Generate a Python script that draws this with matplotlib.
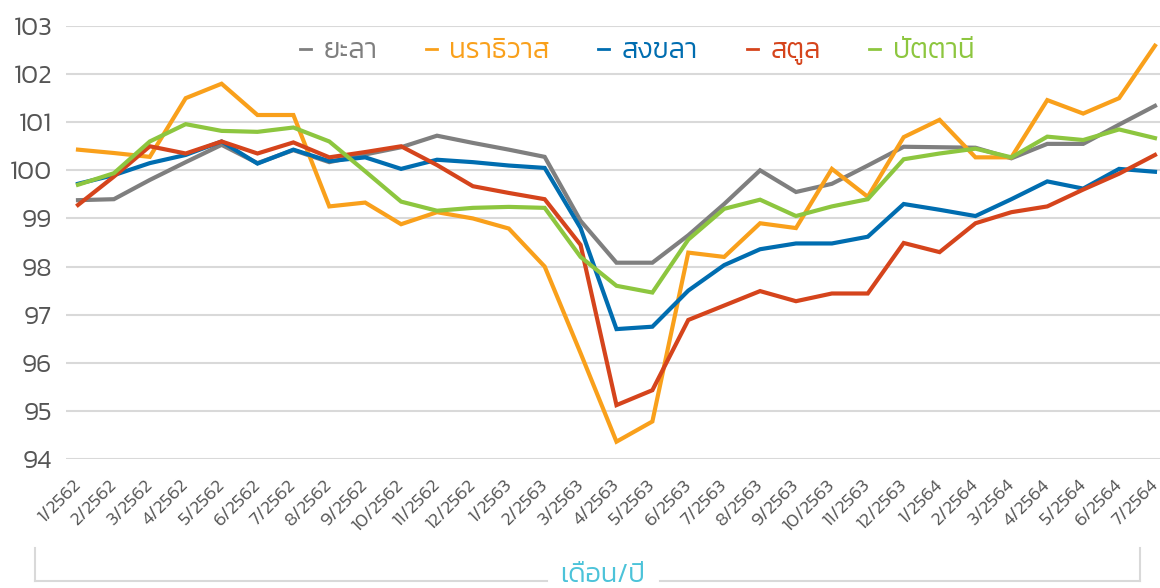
import matplotlib
matplotlib.use("Agg")
import matplotlib.pyplot as plt
from matplotlib.lines import Line2D

months = ['1/2562', '2/2562', '3/2562', '4/2562', '5/2562', '6/2562', '7/2562',
          '8/2562', '9/2562', '10/2562', '11/2562', '12/2562',
          '1/2563', '2/2563', '3/2563', '4/2563', '5/2563', '6/2563', '7/2563',
          '8/2563', '9/2563', '10/2563', '11/2563', '12/2563',
          '1/2564', '2/2564', '3/2564', '4/2564', '5/2564', '6/2564', '7/2564']

yala = [99.38, 99.40, 99.80, 100.17, 100.53, 100.15, 100.42, 100.17, 100.33, 100.48,
        100.72, 100.57, 100.43, 100.28, 98.95, 98.08, 98.08, 98.65, 99.30, 100.00,
        99.55, 99.72, 100.10, 100.49, 100.48, 100.47, 100.25, 100.55, 100.55, 100.95, 101.34]
narathiwat = [100.43, 100.36, 100.28, 101.50, 101.80, 101.15, 101.15, 99.25, 99.33, 98.88,
              99.13, 99.00, 98.79, 98.00, 96.20, 94.36, 94.78, 98.29, 98.20, 98.90,
              98.80, 100.03, 99.45, 100.69, 101.05, 100.27, 100.27, 101.46, 101.18, 101.50, 102.59]
songkhla = [99.72, 99.90, 100.15, 100.32, 100.60, 100.14, 100.43, 100.19, 100.27, 100.03,
            100.22, 100.17, 100.10, 100.05, 98.80, 96.70, 96.75, 97.50, 98.03, 98.36,
            98.48, 98.48, 98.62, 99.30, 99.18, 99.05, 99.40, 99.77, 99.62, 100.03, 99.97]
satun = [99.28, 99.87, 100.50, 100.35, 100.60, 100.35, 100.58, 100.27, 100.38, 100.50,
         100.11, 99.67, 99.53, 99.40, 98.45, 95.12, 95.43, 96.89, 97.19, 97.49,
         97.28, 97.44, 97.44, 98.49, 98.30, 98.90, 99.13, 99.25, 99.60, 99.93, 100.32]
pattani = [99.70, 99.94, 100.60, 100.96, 100.82, 100.80, 100.89, 100.60, 99.98, 99.35,
           99.16, 99.22, 99.24, 99.22, 98.20, 97.60, 97.46, 98.56, 99.20, 99.39,
           99.05, 99.25, 99.40, 100.23, 100.35, 100.45, 100.27, 100.70, 100.63, 100.85, 100.67]

series_names = ['ยะลา', 'นราธิวาส', 'สงขลา', 'สตูล', 'ปัตตานี']
series_values = [yala, narathiwat, songkhla, satun, pattani]
series_colors = ['#7f7f7f', '#f9a01b', '#006db0', '#d5441c', '#8dc63f']
yticks = [94, 95, 96, 97, 98, 99, 100, 101, 102, 103]
xlabel_text = 'เดือน/ปี'

plt.rcParams['font.family'] = ['Kanit', 'Noto Sans', 'DejaVu Sans']
plt.rcParams['font.weight'] = 300

fig = plt.figure(figsize=(11.6, 5.88), dpi=100)
ax = fig.add_axes([66 / 1160, 1 - 459 / 588, 1 - 66 / 1160, (459 - 26) / 588])

x = list(range(len(months)))
for name, vals, col in zip(series_names, series_values, series_colors):
    ax.plot(x, vals, color=col, lw=3.0, label=name, solid_joinstyle='miter')

ax.set_ylim(94, 103)
ax.set_xlim(-0.334, 30.14)
ax.set_yticks(yticks)
ax.set_yticklabels([str(v) for v in yticks], fontsize=19, color='#555555')
ax.set_xticks(x)
ax.set_xticklabels(months, rotation=45, ha='right', va='center',
                   rotation_mode='anchor', fontsize=13.5, color='#555555')
ax.tick_params(axis='both', length=0)
ax.tick_params(axis='y', pad=10)
ax.tick_params(axis='x', pad=17)
ax.grid(axis='y', color='#d9d9d9', lw=1.5)
ax.set_axisbelow(True)
for s in ax.spines.values():
    s.set_visible(False)

leg = ax.legend(loc='center', bbox_to_anchor=(0.522, 0.94), ncol=5, frameon=False,
                handlelength=0.4, handletextpad=0.45, columnspacing=1.75,
                prop={'size': 20, 'weight': 300}, labelcolor=series_colors)
for h in leg.legend_handles:
    h.set_linewidth(2.0)

# bottom bracket
W, H = 1160, 588
def fx(px):
    return px / W
def fy(py):
    return 1 - py / H
bc = '#d9d9d9'
fig.add_artist(Line2D([fx(35), fx(35)], [fy(548), fy(581)], color=bc, lw=1.5))
fig.add_artist(Line2D([fx(35), fx(547)], [fy(581), fy(581)], color=bc, lw=1.5))
fig.add_artist(Line2D([fx(660), fx(1140)], [fy(581), fy(581)], color=bc, lw=1.5))
fig.add_artist(Line2D([fx(1140), fx(1140)], [fy(548), fy(581)], color=bc, lw=1.5))
fig.text(fx(603), fy(576), xlabel_text, ha='center', va='center', fontsize=19.5,
         weight=300, color='#4cc3d9')

fig.savefig('out.png', dpi=100)
